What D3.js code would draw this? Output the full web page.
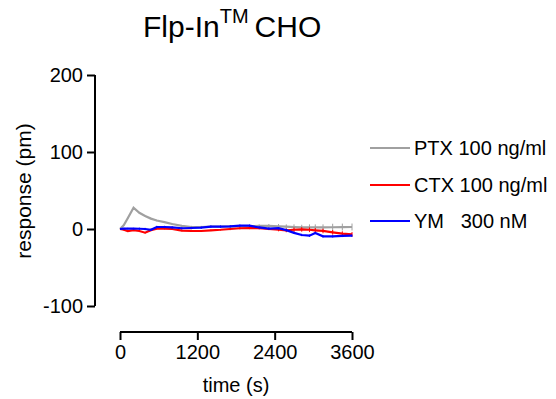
<!DOCTYPE html>
<html>
<head>
<meta charset="utf-8">
<script src="https://cdn.jsdelivr.net/npm/d3@7/dist/d3.min.js"></script>
<style>
html,body{margin:0;padding:0;background:#fff;}
svg{display:block;font-family:"Liberation Sans",Arial,sans-serif;}
</style>
</head>
<body>
<svg id="chart" width="556" height="399"></svg>
<script>
// ---- data ----
const times = [0, 60, 120, 210, 300, 390, 480, 570, 690, 810, 960, 1110, 1260, 1410, 1560, 1710, 1860, 2010, 2160, 2310, 2460, 2580, 2700, 2820, 2940, 3030, 3150, 3300, 3450, 3600];
const ptx = [0, 5, 14, 27.7, 21, 17, 13.5, 11, 9, 6.5, 4, 2.6, 2.6, 3, 3, 3.5, 3.5, 3.5, 4, 4, 3.5, 3, 2.5, 2, 2, 2, 2, 2.3, 2.5, 2.6];
const ctx = [0, -1, -2.6, -1.5, -2.6, -4.8, -1.5, 0.5, 0.5, 0, -2, -2.5, -2.6, -1.7, -1, 0, 1, 1.3, 1, 0, -1, -1.7, -1, -0.5, -1, -1.7, -2.5, -4.3, -6, -7];
const ym = [0, 0.5, 0.5, 0.5, 0.3, 0, -1, 2.6, 2.6, 2, 1, 1.3, 1.7, 3, 3, 3.5, 4.3, 4.3, 2, 0.5, 1, -1.5, -5, -7.8, -8.7, -5.2, -9.5, -9.5, -9, -8.7];
const ptxSem = [0, 0.5, 0.8, 1, 1, 1, 1, 1, 1, 1, 1.2, 1.5, 1.5, 1.5, 1.5, 1.5, 1.5, 1.5, 2, 2.5, 3, 3, 3.5, 3.5, 4, 4, 4, 4.5, 4.5, 4.5];
const ctxSem = [0, 1, 1, 1, 1, 1, 1, 1, 1, 1, 1, 1, 1, 1, 1, 1.5, 1.5, 1.5, 1.5, 1.5, 2, 2.5, 3, 3, 3, 3, 3, 3, 3, 3];
const ymSem = [0, 1, 1, 1, 1.5, 1.5, 1.5, 1.5, 1.5, 1.5, 1.5, 1.5, 1.5, 1.5, 1.5, 1.5, 1.5, 1.5, 1.5, 1.5, 1.5, 1.5, 1.5, 1.5, 1.5, 1.5, 1.5, 1.5, 1.5, 1.5];
const seriesNames = ["PTX 100 ng/ml", "CTX 100 ng/ml", "YM   300 nM"];
const seriesColors = ["#a0a0a0", "#ff0000", "#0000ff"];
const xTicks = [0, 1200, 2400, 3600];
const yTicks = [-100, 0, 100, 200];

const series = [
  {name: seriesNames[0], color: seriesColors[0], values: ptx, sem: ptxSem},
  {name: seriesNames[1], color: seriesColors[1], values: ctx, sem: ctxSem},
  {name: seriesNames[2], color: seriesColors[2], values: ym, sem: ymSem}
];

const svg = d3.select("#chart");
const x = d3.scaleLinear().domain([0, 3600]).range([120, 352]);
const y = d3.scaleLinear().domain([-100, 200]).range([306, 75]);

// title
const title = svg.append("text").attr("x", 143).attr("y", 37)
  .attr("font-size", 30).attr("fill", "#000").attr("xml:space", "preserve").style("white-space", "pre");
title.append("tspan").text("Flp-In");
title.append("tspan").attr("font-size", 20).attr("dy", -14).text("TM");
title.append("tspan").attr("dy", 14).attr("dx", 6).text("CHO");

const fmt = d => String(d);

// y axis
const yAxis = svg.append("g").attr("transform", "translate(95,0)")
  .call(d3.axisLeft(y).tickValues(yTicks).tickSize(8).tickPadding(4).tickFormat(fmt));
yAxis.select(".domain").attr("d", `M0,${y(-100)}V${y(200)}`).attr("stroke-width", 2);
yAxis.selectAll(".tick line").attr("stroke-width", 2);
yAxis.selectAll("text").attr("font-size", 20).attr("font-family", "Liberation Sans, Arial, sans-serif").attr("fill", "#000");

// x axis
const xAxis = svg.append("g").attr("transform", "translate(0,332)")
  .call(d3.axisBottom(x).tickValues(xTicks).tickSize(8).tickPadding(5).tickFormat(fmt));
xAxis.select(".domain").attr("d", `M${x(0)},0H${x(3600)}`).attr("stroke-width", 2);
xAxis.selectAll(".tick line").attr("stroke-width", 2);
xAxis.selectAll("text").attr("font-size", 20).attr("font-family", "Liberation Sans, Arial, sans-serif").attr("fill", "#000");

// axis titles
svg.append("text").attr("x", 236).attr("y", 392).attr("text-anchor", "middle")
  .attr("font-size", 20).text("time (s)");
svg.append("text").attr("transform", "translate(31,191) rotate(-90)").attr("text-anchor", "middle")
  .attr("font-size", 21).text("response (pm)");

// series
const line = d3.line().x((d, i) => x(times[i])).y(d => y(d));
series.forEach(s => {
  const g = svg.append("g");
  g.selectAll("line.err").data(s.values).enter().append("line")
    .attr("x1", (d, i) => x(times[i])).attr("x2", (d, i) => x(times[i]))
    .attr("y1", (d, i) => y(d - s.sem[i])).attr("y2", (d, i) => y(d + s.sem[i]))
    .attr("stroke", s.color).attr("stroke-width", 1);
  g.append("path").datum(s.values).attr("d", line)
    .attr("fill", "none").attr("stroke", s.color).attr("stroke-width", 2.2);
});

// legend
const legendY = [148, 185, 221];
series.forEach((s, i) => {
  svg.append("line").attr("x1", 370).attr("x2", 410).attr("y1", legendY[i]).attr("y2", legendY[i])
    .attr("stroke", s.color).attr("stroke-width", 2);
  svg.append("text").attr("x", 414).attr("y", legendY[i]).attr("dy", "0.35em")
    .attr("font-size", 20).attr("xml:space", "preserve").style("white-space", "pre").text(s.name);
});
</script>
</body>
</html>
